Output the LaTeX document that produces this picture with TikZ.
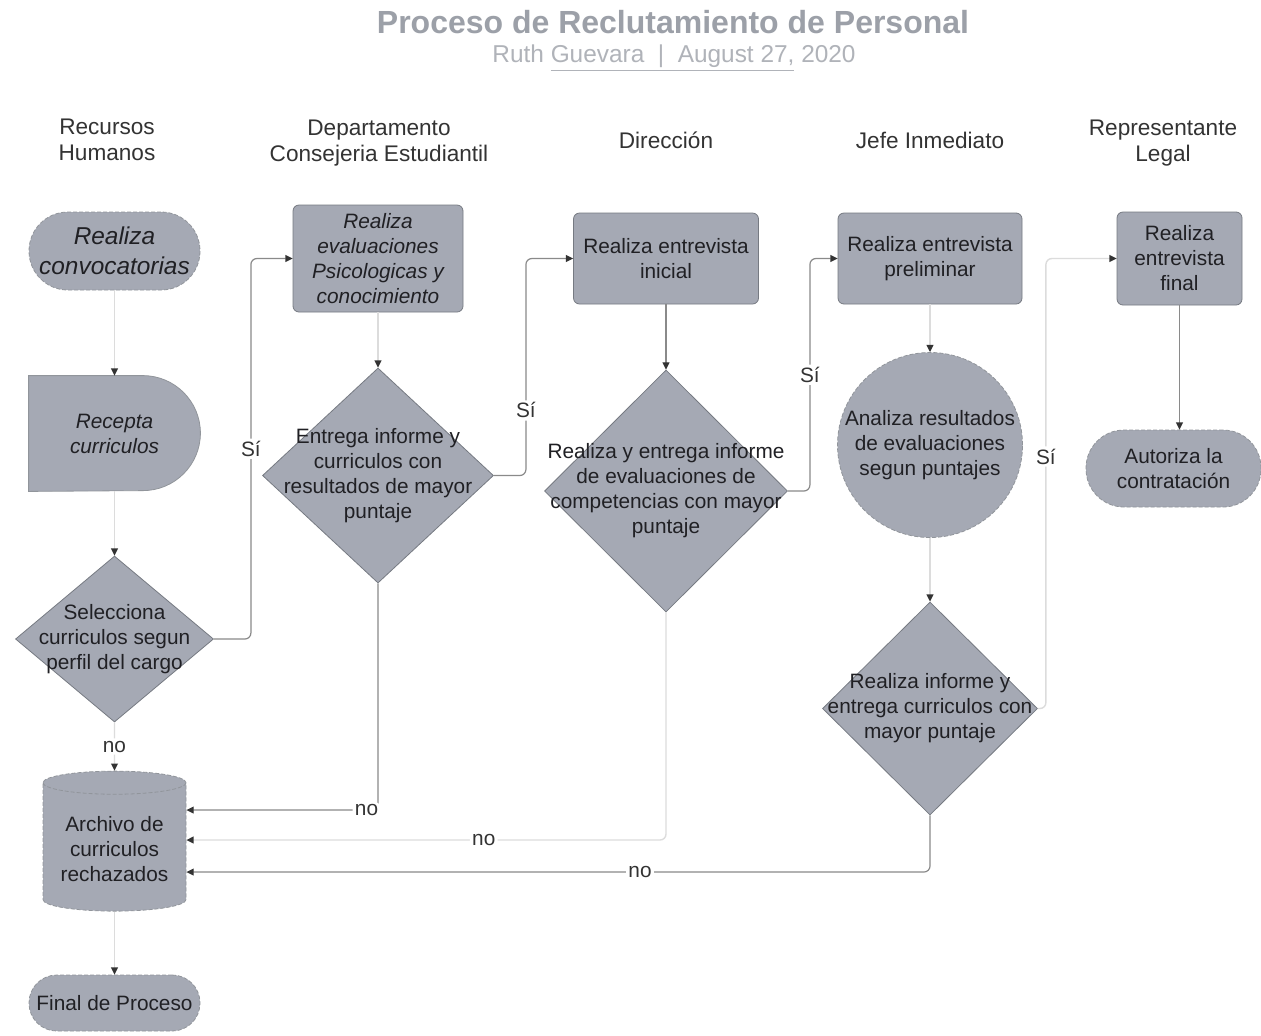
\documentclass[tikz,border=0pt]{standalone}
\usepackage{fontspec}
\setmainfont{Liberation Sans}
\usetikzlibrary{arrows.meta,shapes.geometric,backgrounds}
\definecolor{boxgray}{RGB}{165,169,180}
\definecolor{edgegray}{RGB}{118,122,130}
\definecolor{titlegray}{RGB}{156,160,168}
\definecolor{subgray}{RGB}{176,179,185}
\definecolor{inkdark}{RGB}{32,32,36}
\definecolor{lineLight}{RGB}{220,220,220}
\definecolor{lineMid}{RGB}{138,138,138}

\begin{document}
\begin{tikzpicture}[x=0.5pt, y=-0.5pt,
    every node/.style={font=\fontsize{10.4}{12.5}\selectfont, text=inkdark},
    lane/.style={font=\fontsize{11.3}{13}\selectfont, text=black!80, align=center},
    procbox/.style={draw=edgegray, line width=0.4pt, fill=boxgray, rounded corners=3pt, align=center, inner sep=2pt},
    termbox/.style={draw=edgegray!80, dash pattern=on 2pt off 1pt, line width=0.4pt, fill=boxgray, align=center, inner sep=2pt},
    decbox/.style={diamond, draw=edgegray, line width=0.4pt, fill=boxgray, inner sep=0pt},
    dectext/.style={align=center, inner sep=0pt},
    lightln/.style={draw=lineLight, line width=0.7pt, rounded corners=3pt, -{Triangle[length=3.6pt, width=3.4pt, color=black!80]}},
    midln/.style={draw=lineMid, line width=0.6pt, rounded corners=3pt, -{Triangle[length=3.6pt, width=3.4pt, color=black!80]}},
    lbl/.style={fill=white, inner sep=1.2pt, text=black!80}
  ]
  \begin{scope}[on background layer]
    \fill[white] (0,0) rectangle (1261,1035);
  \end{scope}
  \useasboundingbox (0,0) rectangle (1261,1035);

  % title
  \node[font=\bfseries\fontsize{16}{19}\selectfont, text=titlegray] (title) at (673,22) {Proceso de Reclutamiento de Personal};
  \node[font=\fontsize{12.2}{14}\selectfont, text=subgray] (subtitle) at (674,58) {Ruth \underline{Guevara\ \ |\ \ August 27,} 2020};

  % lanes
  \node[lane] (hdr-rh) at (107,140) {Recursos\\Humanos};
  \node[lane] (hdr-dce) at (379,143) {Departamento\\Consejeria Estudiantil};
  \node[lane] (hdr-dir) at (666,140) {Dirección};
  \node[lane] (hdr-jefe) at (930,140) {Jefe Inmediato};
  \node[lane] (hdr-rep) at (1163,143) {Representante\\Legal};

  % Recursos Humanos
  \node[termbox, rounded corners=19.4pt, minimum width=85.5pt, minimum height=39pt, font=\itshape\fontsize{12.2}{15}\selectfont] (conv) at (114.5,251) {Realiza\\convocatorias};
  \node[align=center, minimum width=85.5pt, minimum height=57.5pt, font=\itshape\fontsize{10.4}{12.5}\selectfont] (rec) at (114.5,433.5) {Recepta\\curriculos};
  \begin{scope}[on background layer]
    \filldraw[fill=boxgray, draw=edgegray!80, line width=0.4pt] (rec.north west) -- ([xshift=-28.75pt]rec.north east) arc[start angle=90, end angle=-90, radius=28.75pt] -- (rec.south west) -- cycle;
  \end{scope}
  \node[decbox, minimum width=99pt, minimum height=83pt] (sel) at (114.5,639) {};
  \node[dectext] (sel-txt) at (sel) {Selecciona\\curriculos segun\\perfil del cargo};
  \node[termbox, cylinder, shape border rotate=90, aspect=0.2, minimum width=71.5pt, minimum height=70pt] (arch) at (114.5,849) {Archivo de\\curriculos\\rechazados};
  \node[termbox, rounded corners=13.9pt, minimum width=85.5pt, minimum height=28pt] (fin) at (114.5,1003) {Final de Proceso};

  % Consejeria Estudiantil
  \node[procbox, minimum width=85pt, minimum height=53.5pt, font=\itshape\fontsize{10.4}{12.5}\selectfont] (eval) at (378,258.5) {Realiza\\evaluaciones\\Psicologicas y\\conocimiento};
  \node[decbox, minimum width=115.5pt, minimum height=107.5pt] (ent) at (378,475.5) {};
  \node[dectext] (ent-txt) at (ent) {Entrega informe y\\curriculos con\\resultados de mayor\\puntaje};

  % Direccion
  \node[procbox, minimum width=92.5pt, minimum height=45.5pt] (ini) at (666,258.5) {Realiza entrevista\\inicial};
  \node[decbox, minimum width=121.5pt, minimum height=121pt] (comp) at (666,491) {};
  \node[dectext] (comp-txt) at (comp) {Realiza y entrega informe\\de evaluaciones de\\competencias con mayor\\puntaje};

  % Jefe Inmediato
  \node[procbox, minimum width=92pt, minimum height=45.5pt] (pre) at (930,258.5) {Realiza entrevista\\preliminar};
  \node[termbox, circle, minimum size=92.5pt, inner sep=0pt] (circ) at (930,445) {Analiza resultados\\de evaluaciones\\segun puntajes};
  \node[decbox, minimum width=107.5pt, minimum height=106.5pt] (infm) at (930,708.5) {};
  \node[dectext] (infm-txt) at (infm) {Realiza informe y\\entrega curriculos con\\mayor puntaje};

  % Representante Legal
  \node[procbox, minimum width=62.5pt, minimum height=46.5pt] (fent) at (1179.5,258.5) {Realiza\\entrevista\\final};
  \node[termbox, rounded corners=19pt, minimum width=87.5pt, minimum height=38.5pt] (aut) at (1173.5,468.5) {Autoriza la\\contratación};

  % connectors
  \draw[lightln] (conv) -- (rec);
  \draw[lightln] (rec) -- (sel);
  \draw[lightln] (sel) -- node[lbl]{no} (arch);
  \draw[lightln] (arch) -- (fin);
  \draw[midln] (sel.east) -- ++(37,0) |- node[lbl, pos=0.25]{Sí} (eval.west);
  \draw[lightln] (eval) -- (ent);
  \draw[midln] (ent.east) -- ++(32,0) |- node[lbl, pos=0.15]{Sí} (ini.west);
  \draw[midln] (ent.south) |- node[lbl, pos=0.53]{no} ([yshift=19.5pt]arch.east);
  \draw[midln] (ini) -- (comp);
  \draw[midln] (comp.east) -- ++(22,0) |- node[lbl, pos=0.25]{Sí} (pre.west);
  \draw[lightln] (comp.south) |- node[lbl, pos=0.69]{no} ([yshift=4.5pt]arch.east);
  \draw[lightln] (pre) -- (circ);
  \draw[lightln] (circ) -- (infm);
  \draw[lightln] (infm.east) -- ++(8,0) |- node[lbl, pos=0.28]{Sí} (fent.west);
  \draw[midln] (infm.south) |- node[lbl, pos=0.695]{no} ([yshift=-11.5pt]arch.east);
  \draw[midln] (fent.south) -- (fent.south |- aut.north);
\end{tikzpicture}
\end{document}
